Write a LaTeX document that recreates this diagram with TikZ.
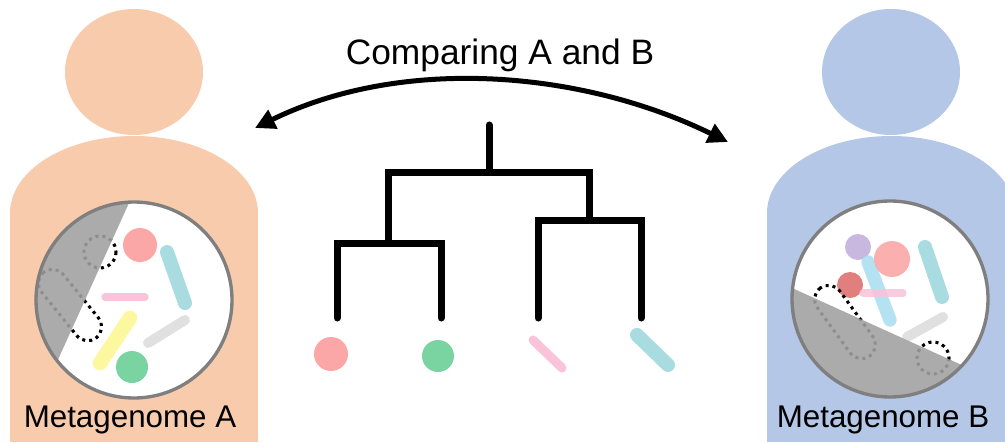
\documentclass[tikz,border=0pt]{standalone}
\usepackage{fontspec}
\setmainfont{Liberation Sans}
\usetikzlibrary{arrows.meta}
\definecolor{peach}{HTML}{F8CBAD}
\definecolor{skyblue}{HTML}{B4C7E7}
\definecolor{rim}{HTML}{7F7F7F}
\definecolor{cutgray}{HTML}{ABABAB}
\definecolor{dotgray}{HTML}{8E8E8E}
\definecolor{coral}{HTML}{FBA7A7}
\definecolor{mint}{HTML}{7AD4A1}
\definecolor{blush}{HTML}{F9C3D9}
\definecolor{aqua}{HTML}{A9DCE0}
\definecolor{lemon}{HTML}{FCF8A0}
\definecolor{silver}{HTML}{E0E0E0}
\definecolor{lilac}{HTML}{C8B7DF}
\definecolor{rosered}{HTML}{DE7070}
\definecolor{cyanlt}{HTML}{A7DDF1}

\begin{document}
\begin{tikzpicture}[x=0.75pt,y=-0.75pt,
    rod/.style={line cap=round,line width=#1},
    ghost/.style={line width=2.3pt,dash pattern=on 2.3pt off 3pt},
    capt/.style={anchor=base,font=\fontsize{23.5}{28}\selectfont},
    branch/.style={line width=5.25pt,line cap=round}]
  \useasboundingbox (0,0) rectangle (1005,442);
  \fill[white] (0,0) rectangle (1005,442);
  \clip (0,0) rectangle (1005,442);

  % person A
  \fill[peach] (134,72) ellipse [x radius=69,y radius=63];
  \fill[peach] (134,213) ellipse [x radius=124,y radius=77];
  \fill[peach] (10,213) rectangle (258,442);
  % person B
  \fill[skyblue] (891,72) ellipse [x radius=69,y radius=63];
  \fill[skyblue] (891,213) ellipse [x radius=124,y radius=77];
  \fill[skyblue] (767,213) rectangle (1015,442);

  % sample A
  \begin{scope}
    \clip (134,300) circle [radius=98];
    \fill[white] (134,300) circle [radius=98];
    \fill[coral] (140,245) circle [radius=17];
    \draw[rod=10.5pt,aqua] (167,252) -- (185,303);
    \draw[rod=5.5pt,blush] (105,297) -- (145,297);
    \draw[rod=11pt,lemon] (130,318) -- (100,363);
    \draw[rod=7.5pt,silver] (148,343) -- (185,320);
    \fill[mint] (132,367) circle [radius=16];
    \fill[cutgray] (148,161) -- (37,406) -- (30,406) -- (30,161) -- cycle;
    \begin{scope}
      \clip (148,161) -- (37,406) -- (30,406) -- (30,161) -- cycle;
      \draw[ghost,dotgray] (100,252) circle [radius=16];
      \draw[ghost,dotgray,shift={(70,305)},rotate=-51,rounded corners=10.5pt]
        (-42,-14) rectangle (42,14);
    \end{scope}
    \begin{scope}
      \clip (148,161) -- (37,406) -- (240,406) -- (240,161) -- cycle;
      \draw[ghost] (100,252) circle [radius=16];
      \draw[ghost,shift={(70,305)},rotate=-51,rounded corners=10.5pt]
        (-42,-14) rectangle (42,14);
    \end{scope}
  \end{scope}
  \draw[rim,line width=2.5pt] (134,300) circle [radius=98];

  % sample B
  \begin{scope}
    \clip (890,299) circle [radius=98];
    \fill[white] (890,299) circle [radius=98];
    \draw[rod=7.5pt,silver] (907,337) -- (943,317);
    \draw[rod=10.5pt,aqua] (925,247) -- (942,297);
    \fill[lilac] (858,247) circle [radius=13];
    \draw[rod=10pt,cyanlt,opacity=0.85] (868,262) -- (890,320);
    \fill[coral,opacity=0.9] (892,259) circle [radius=18];
    \fill[rosered,opacity=0.9] (850,285) circle [radius=13];
    \draw[rod=5.5pt,blush,opacity=0.85] (863,293) -- (903,293);
    \fill[cutgray] (781,283) -- (997,381) -- (997,410) -- (781,410) -- cycle;
    \begin{scope}
      \clip (781,283) -- (997,381) -- (997,410) -- (781,410) -- cycle;
      \draw[ghost,dotgray] (933,358) circle [radius=16];
      \draw[ghost,dotgray,shift={(845,322)},rotate=-54,rounded corners=10.5pt]
        (-42,-14) rectangle (42,14);
    \end{scope}
    \begin{scope}
      \clip (781,283) -- (997,381) -- (997,190) -- (781,190) -- cycle;
      \draw[ghost] (933,358) circle [radius=16];
      \draw[ghost,shift={(845,322)},rotate=-54,rounded corners=10.5pt]
        (-42,-14) rectangle (42,14);
    \end{scope}
  \end{scope}
  \draw[rim,line width=2.5pt] (890,299) circle [radius=98];

  % labels
  \node[capt] (nameA) at (130,427) {Metagenome A};
  \node[capt] (nameB) at (883,427) {Metagenome B};
  \node[capt,font=\fontsize{26.5}{31}\selectfont] (cmp) at (500,65) {Comparing A and B};

  % comparison arrow
  \coordinate (arrL) at (255,128);
  \coordinate (arrR) at (728,142);
  \draw[line width=3.75pt,{Triangle[length=15pt,width=15pt]}-{Triangle[length=15pt,width=15pt]}]
    (arrL) .. controls (402,56) and (581,70) .. (arrR);

  % tree
  \coordinate (root) at (489,125);
  \coordinate (top) at (489,172);
  \coordinate (jl) at (388,243);
  \coordinate (jr) at (589,220);
  \coordinate (l1) at (337,318);
  \coordinate (l2) at (441,318);
  \coordinate (l3) at (538,318);
  \coordinate (l4) at (641,318);
  \draw[branch] (root) -- (top);
  \draw[branch] (jl) -- (jl |- top) -- (jr |- top) -- (jr);
  \draw[branch] (l1) -- (l1 |- jl) -- (l2 |- jl) -- (l2);
  \draw[branch] (l3) -- (l3 |- jr) -- (l4 |- jr) -- (l4);

  % taxa under the leaves
  \fill[coral] (331,354) circle [radius=17];
  \fill[mint] (438,356) circle [radius=16];
  \draw[rod=6.75pt,blush] (533,340) -- (562,368);
  \draw[rod=10.5pt,aqua] (637,335) -- (668,365);
\end{tikzpicture}
\end{document}
